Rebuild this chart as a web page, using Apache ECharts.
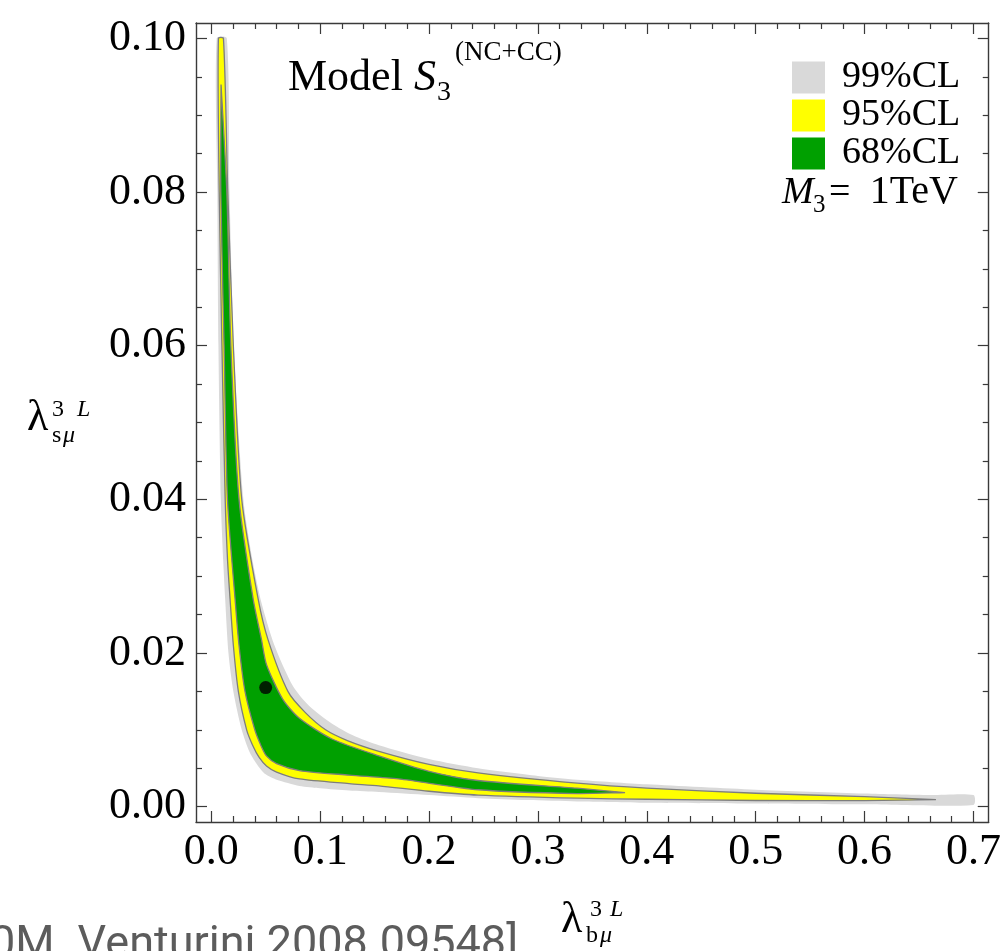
<!DOCTYPE html>
<html><head><meta charset="utf-8">
<script src="https://cdn.jsdelivr.net/npm/echarts@6/dist/echarts.min.js"></script>
<style>html,body{margin:0;padding:0;background:#fff}#c{width:1004px;height:951px}</style>
</head><body><div id="c"></div>
<script>
// ---- tick values / labels ----
const xMajorTicks = [0, 0.1, 0.2, 0.3, 0.4, 0.5, 0.6, 0.7];
const xMinorTicks = [0.02,0.04,0.06,0.08,0.12,0.14,0.16,0.18,0.22,0.24,0.26,0.28,0.32,0.34,0.36,0.38,0.42,0.44,0.46,0.48,0.52,0.54,0.56,0.58,0.62,0.64,0.66,0.68];
const yMajorTicks = [0, 0.02, 0.04, 0.06, 0.08, 0.10];
const yMinorTicks = [0.005,0.01,0.015,0.025,0.03,0.035,0.045,0.05,0.055,0.065,0.07,0.075,0.085,0.09,0.095];

// ---- 99% CL region (grey): lower-left edge and upper-right edge ----
const cl99Lower = [[0.0050,0.100],[0.0056,0.080],[0.0066,0.060],[0.0088,0.040],[0.0110,0.032],[0.0128,0.027],[0.0158,0.020],[0.0203,0.015],[0.028,0.010],[0.0355,0.0070],[0.043,0.0053],[0.050,0.0042],[0.060,0.0035],[0.081,0.0027],[0.100,0.0024],[0.1266,0.0021],[0.154,0.0019],[0.200,0.0015],[0.245,0.0011],[0.290,0.00085],[0.336,0.00068],[0.400,0.00052],[0.500,0.00042],[0.600,0.0003],[0.700,0.00022]];
const cl99Upper = [[0.0143,0.100],[0.0168,0.080],[0.0207,0.060],[0.0295,0.040],[0.038,0.032],[0.0462,0.0265],[0.058,0.021],[0.075,0.0157],[0.090,0.0131],[0.111,0.0108],[0.130,0.0093],[0.154,0.0080],[0.200,0.0062],[0.245,0.0050],[0.300,0.0040],[0.336,0.0035],[0.400,0.0029],[0.500,0.0022],[0.600,0.0017],[0.660,0.0015],[0.700,0.0015]];
// ---- 95% CL region (yellow) ----
const cl95Lower = [[0.0066,0.100],[0.0073,0.080],[0.0098,0.060],[0.0128,0.040],[0.0150,0.032],[0.0173,0.027],[0.0203,0.021],[0.0249,0.015],[0.0325,0.010],[0.0380,0.0080],[0.0440,0.0064],[0.0507,0.0053],[0.060,0.0045],[0.081,0.0036],[0.1266,0.0030],[0.154,0.0027],[0.200,0.0020],[0.245,0.0015],[0.336,0.0011],[0.400,0.00096],[0.500,0.0008],[0.600,0.00078],[0.6655,0.00091]];
const cl95Upper = [[0.0112,0.100],[0.0152,0.080],[0.0203,0.060],[0.0280,0.040],[0.0431,0.027],[0.0522,0.0217],[0.0704,0.015],[0.086,0.0123],[0.105,0.0100],[0.125,0.0086],[0.154,0.0072],[0.200,0.0055],[0.245,0.0044],[0.336,0.00305],[0.400,0.0024],[0.500,0.00174],[0.600,0.0013],[0.6655,0.00091]];
// ---- 68% CL region (green) ----
const cl68Lower = [[0.0090,0.094],[0.0088,0.080],[0.0118,0.060],[0.0149,0.040],[0.0219,0.027],[0.0255,0.021],[0.031,0.015],[0.040,0.010],[0.0455,0.0080],[0.0507,0.0066],[0.060,0.0056],[0.081,0.0047],[0.1266,0.0041],[0.172,0.0036],[0.245,0.0022],[0.336,0.0017],[0.380,0.00183]];
const cl68Upper = [[0.0090,0.094],[0.0143,0.080],[0.018,0.060],[0.0255,0.040],[0.0385,0.027],[0.0462,0.0217],[0.0507,0.0185],[0.0656,0.0140],[0.081,0.0115],[0.111,0.0088],[0.154,0.0066],[0.200,0.0046],[0.245,0.0034],[0.336,0.0024],[0.380,0.00183]];
// ---- best fit point ----
const bestFit = [[0.050, 0.0155]];

const SERIF = '"Liberation Serif","Times New Roman",serif';
const chart = echarts.init(document.getElementById('c'));

function polygonRenderer(lower, upper, stroke) {
  const pts = lower.concat(upper.slice().reverse());
  return function (params, api) {
    if (params.dataIndex !== 0) return null;
    return {
      type: 'polygon',
      shape: { points: pts.map(p => api.coord(p)), smooth: 0.25 },
      style: { fill: api.visual('color'), stroke: stroke || null, lineWidth: stroke ? 1.3 : 0 }
    };
  };
}

function axisCommon(pos, isX, ticks, len, showLine, showLabel) {
  return {
    type: 'value', position: pos,
    min: isX ? -0.014 : -0.002, max: isX ? 0.714 : 0.102,
    axisLine: { show: showLine, onZero: false, lineStyle: { color: '#3a3a3a', width: 1.4 } },
    axisTick: { show: true, inside: true, length: len, customValues: ticks, lineStyle: { color: '#3a3a3a', width: 1.2 } },
    axisLabel: { show: showLabel, customValues: ticks, fontFamily: SERIF, fontSize: 44, color: '#000',
      margin: isX ? 8 : 10, formatter: v => v.toFixed(isX ? 1 : 2) },
    splitLine: { show: false }
  };
}

function txt(x, base, s, fs, italic, color, family, align) {
  return { type: 'text', x: x, y: base - 0.32 * fs, silent: true,
    style: { text: s, fontFamily: family || SERIF, fontSize: fs, fontStyle: italic ? 'italic' : 'normal',
      fill: color || '#000', verticalAlign: 'middle', align: align || 'left' } };
}

chart.setOption({
  animation: false,
  grid: { left: 196, top: 23, width: 799, height: 799, containLabel: false },
  xAxis: [
    axisCommon('bottom', true, xMajorTicks, 11, true, true),
    axisCommon('bottom', true, xMinorTicks, 6, false, false),
    axisCommon('top', true, xMajorTicks, 11, true, false),
    axisCommon('top', true, xMinorTicks, 6, false, false)
  ],
  yAxis: [
    axisCommon('left', false, yMajorTicks, 11, true, true),
    axisCommon('left', false, yMinorTicks, 6, false, false),
    axisCommon('right', false, yMajorTicks, 11, true, false),
    axisCommon('right', false, yMinorTicks, 6, false, false)
  ],
  legend: {
    data: ['99%CL', '95%CL', '68%CL'], orient: 'vertical', left: 792, top: 58.5, padding: 0,
    itemWidth: 33, itemHeight: 32, itemGap: 0, icon: 'rect', selectedMode: false,
    itemStyle: { borderWidth: 0 },
    textStyle: { fontFamily: SERIF, fontSize: 38, color: '#000', padding: [0, 0, 0, 12] }
  },
  series: [
    { type: 'custom', name: '99%CL', xAxisIndex: 0, yAxisIndex: 0, data: [[0.3, 0.005]], silent: true, z: 1, clip: true,
      itemStyle: { color: '#d9d9d9' }, renderItem: polygonRenderer(cl99Lower, cl99Upper, null) },
    { type: 'custom', name: '95%CL', xAxisIndex: 0, yAxisIndex: 0, data: [[0.3, 0.005]], silent: true, z: 2, clip: true,
      itemStyle: { color: '#ffff00' }, renderItem: polygonRenderer(cl95Lower, cl95Upper, '#7d7d7d') },
    { type: 'custom', name: '68%CL', xAxisIndex: 0, yAxisIndex: 0, data: [[0.3, 0.005]], silent: true, z: 3, clip: true,
      itemStyle: { color: '#00a000' }, renderItem: polygonRenderer(cl68Lower, cl68Upper, '#7d7d7d') },
    { type: 'scatter', name: 'best fit', xAxisIndex: 0, yAxisIndex: 0, data: bestFit, symbolSize: 13, z: 5,
      itemStyle: { color: '#000' }, silent: true }
  ],
  graphic: [
    txt(288, 93, 'Model', 44, false),
    txt(414, 93, 'S', 44, true),
    txt(437, 102, '3', 28, false),
    txt(455, 62, '(NC+CC)', 27, false),
    txt(782, 205, 'M', 38, true),
    txt(813, 213, '3', 25, false),
    txt(829, 205, '=', 38, false),
    txt(958, 205, '1TeV', 40, false, null, null, 'right'),
    // y axis title
    txt(27, 433, 'λ', 44, false),
    txt(52, 417, '3', 24, false),
    txt(77, 417, 'L', 24, true),
    txt(52, 443, 's', 24, false),
    txt(63, 443, 'μ', 24, true),
    // x axis title
    txt(561, 935, 'λ', 44, false),
    txt(590, 917, '3', 24, false),
    txt(610, 917, 'L', 24, true),
    txt(586, 943, 'b', 24, false),
    txt(600, 943, 'μ', 24, true),
    // source (cut off at bottom)
    txt(-10, 960, '0M. Venturini 2008.09548]', 45, false, '#5c5c5c', 'Roboto,"Noto Sans",sans-serif')
  ]
});
</script></body></html>
